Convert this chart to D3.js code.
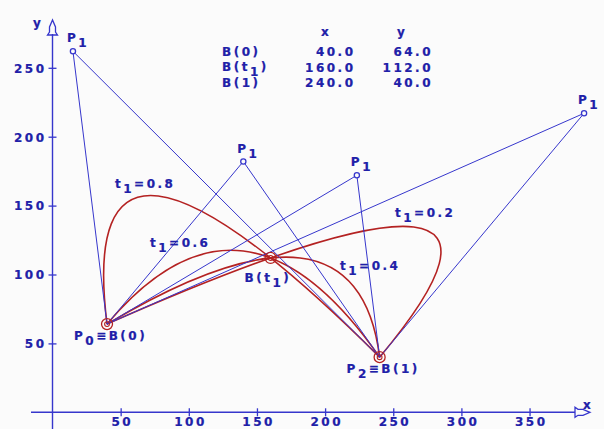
<!DOCTYPE html>
<html><head><meta charset="utf-8">
<script src="https://cdn.jsdelivr.net/npm/d3@7"></script>
<style>
html,body{margin:0;padding:0;background:#fbfbfb;}
svg{display:block;}
svg text{font-family:"DejaVu Sans",sans-serif;font-weight:700;font-size:12px;letter-spacing:2.5px;fill:#2020a8;stroke:#2020a8;stroke-width:0.2px;}
</style></head>
<body>
<script>
// ---- data ----
const tValues = [0.2, 0.4, 0.6, 0.8];
const p1X = [390, 223.3, 140, 15];
const p1Y = [217, 172, 182, 262];
const pointNames = ["B(0)", "B(t1)", "B(1)"];
const pointX = [40, 160, 240];
const pointY = [64, 112, 40];
const xTicks = [50, 100, 150, 200, 250, 300, 350];
const yTicks = [50, 100, 150, 200, 250];

const W = 604, H = 429;
const BLUE = "#3636cc", RED = "#b42222", TXT = "#2020a8";
const svg = d3.select("body").append("svg").attr("width", W).attr("height", H);

const x = d3.scaleLinear().domain([0, 350]).range([52.5, 52.5 + 350 * 1.363]);
const y = d3.scaleLinear().domain([0, 250]).range([412.3, 412.3 - 250 * 1.378]);

// ---- axes ----
const ax = svg.append("g");
ax.append("line").attr("x1", 31).attr("x2", 575).attr("y1", y(0)).attr("y2", y(0))
  .attr("stroke", BLUE).attr("stroke-width", 1.4);
ax.append("line").attr("x1", x(0)).attr("x2", x(0)).attr("y1", H).attr("y2", 34)
  .attr("stroke", BLUE).attr("stroke-width", 1.4);
const ax0 = x(0), ay0 = y(0);
ax.append("path")
  .attr("d", `M${ax0},20 L${ax0-3},27 L${ax0-3},32 L${ax0-5},35 L${ax0+5},35 L${ax0+3},32 L${ax0+3},27 Z`)
  .attr("fill", "none").attr("stroke", BLUE).attr("stroke-width", 1.3);
ax.append("path")
  .attr("d", `M590,${ay0} L583,${ay0-3} L578,${ay0-3} L575,${ay0-5} L575,${ay0+5} L578,${ay0+3} L583,${ay0+3} Z`)
  .attr("fill", "none").attr("stroke", BLUE).attr("stroke-width", 1.3);
ax.append("text").attr("x", 583).attr("y", 409).text("x");
ax.append("text").attr("x", 33).attr("y", 27).text("y");

const xAxis = d3.axisBottom(x).tickValues(xTicks).tickSize(0).tickFormat(d3.format("d"));
const gx = svg.append("g").attr("transform", `translate(0,${y(0)})`).call(xAxis);
gx.select(".domain").remove();
gx.selectAll(".tick").append("line").attr("y1", -4).attr("y2", 4).attr("stroke", BLUE).attr("stroke-width", 1.3);
gx.selectAll(".tick text").attr("y", 14).attr("dy", 0).attr("dx", 1.2).attr("fill", TXT);

const yAxis = d3.axisLeft(y).tickValues(yTicks).tickSize(0).tickFormat(d3.format("d"));
const gy = svg.append("g").attr("transform", `translate(${x(0)},0)`).call(yAxis);
gy.select(".domain").remove();
gy.selectAll(".tick").append("line").attr("x1", -4).attr("x2", 4).attr("stroke", BLUE).attr("stroke-width", 1.3);
gy.selectAll(".tick text").attr("x", -6).attr("dy", "0.36em").attr("fill", TXT);
svg.selectAll("g").attr("font-family", null).attr("font-size", null);

// ---- curves ----
const P0 = [pointX[0], pointY[0]], P2 = [pointX[2], pointY[2]];
const curves = svg.append("g");
tValues.forEach((t, i) => {
  const p = d3.path();
  p.moveTo(x(P0[0]), y(P0[1]));
  p.quadraticCurveTo(x(p1X[i]), y(p1Y[i]), x(P2[0]), y(P2[1]));
  curves.append("path").attr("d", p.toString()).attr("fill", "none")
    .attr("stroke", RED).attr("stroke-width", 1.6);
});

// ---- control polygons ----
const polys = svg.append("g");
const line = d3.line().x(d => x(d[0])).y(d => y(d[1]));
tValues.forEach((t, i) => {
  polys.append("path").attr("d", line([P0, [p1X[i], p1Y[i]], P2]))
    .attr("fill", "none").attr("stroke", BLUE).attr("stroke-width", 1);
});

function subText(g, px, py, parts) {
  const tx = g.append("text").attr("x", px).attr("y", py);
  let cur = 0;
  parts.forEach(([s, sub]) => {
    const target = sub ? 5 : 0;
    tx.append("tspan").attr("dy", target - cur).text(s);
    cur = target;
  });
  return tx;
}
const marks = svg.append("g");
tValues.forEach((t, i) => {
  const cx = x(p1X[i]), cy = y(p1Y[i]);
  marks.append("circle").attr("cx", cx).attr("cy", cy).attr("r", 2.6)
    .attr("fill", "#fbfbfb").attr("stroke", BLUE).attr("stroke-width", 1.3);
  subText(marks, cx - 6, cy - 9, [["P", false], ["1", true]]);
});

pointNames.forEach((n, i) => {
  const cx = x(pointX[i]), cy = y(pointY[i]);
  marks.append("circle").attr("cx", cx).attr("cy", cy).attr("r", 5.5)
    .attr("fill", "none").attr("stroke", RED).attr("stroke-width", 1.3);
  marks.append("circle").attr("cx", cx).attr("cy", cy).attr("r", 2.4)
    .attr("fill", "none").attr("stroke", RED).attr("stroke-width", 1.1);
});
subText(marks, x(pointX[0]) - 33, y(pointY[0]) + 16, [["P", false], ["0", true], ["≡B(0)", false]]);
subText(marks, x(pointX[2]) - 33, y(pointY[2]) + 16, [["P", false], ["2", true], ["≡B(1)", false]]);
subText(marks, x(pointX[1]) - 26, y(pointY[1]) + 24, [["B(t", false], ["1", true], [")", false]]);

const tLabelPos = [[395, 217], [340, 270], [150, 247], [115, 188]];
tValues.forEach((t, i) => {
  subText(marks, tLabelPos[i][0], tLabelPos[i][1], [["t", false], ["1", true], ["=" + t.toFixed(1), false]]);
});

// ---- table ----
const tbl = svg.append("g");
tbl.append("text").attr("x", 321).attr("y", 36).text("x");
tbl.append("text").attr("x", 397).attr("y", 36).text("y");
const rowY = [56, 72, 87];
pointNames.forEach((n, i) => {
  if (n === "B(t1)") subText(tbl, 222, rowY[i] - 1, [["B(t", false], ["1", true], [")", false]]);
  else tbl.append("text").attr("x", 222).attr("y", rowY[i]).text(n);
  tbl.append("text").attr("x", 355.5).attr("y", rowY[i]).attr("text-anchor", "end").text(pointX[i].toFixed(1));
  tbl.append("text").attr("x", 433).attr("y", rowY[i]).attr("text-anchor", "end").text(pointY[i].toFixed(1));
});
</script>
</body></html>
